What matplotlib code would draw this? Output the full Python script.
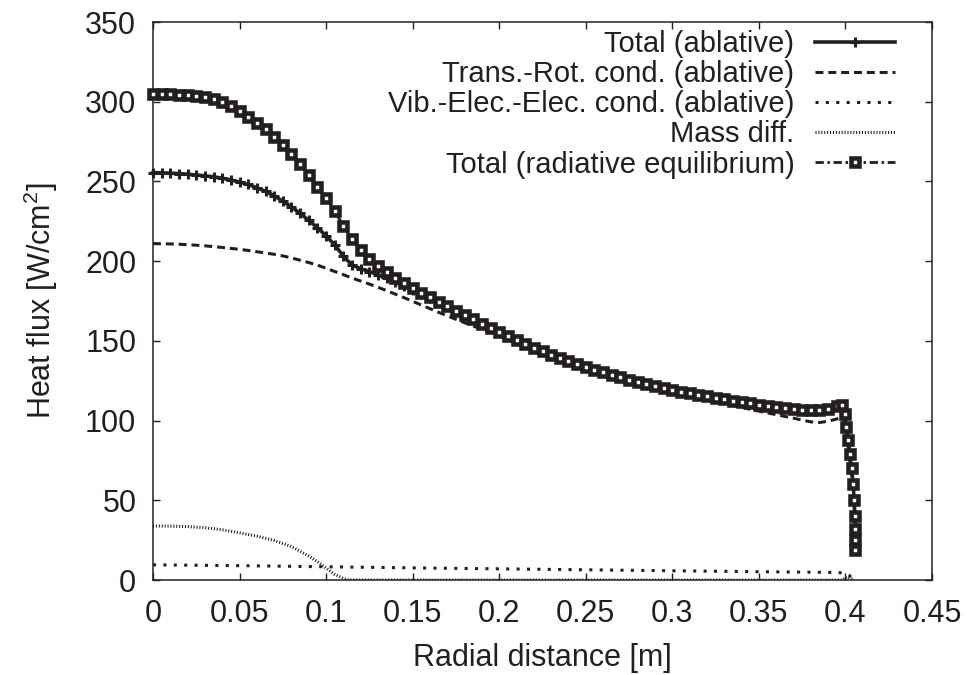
import matplotlib
matplotlib.use('Agg')
import matplotlib.pyplot as plt

# fonts (gnuplot / helvetica look)
plt.rcParams['font.family'] = ['Liberation Sans', 'DejaVu Sans']
plt.rcParams['mathtext.fontset'] = 'custom'
plt.rcParams['mathtext.rm'] = 'Liberation Sans'

# radial distance [m]
x_head = [0.0, 0.005, 0.01, 0.015, 0.02, 0.025, 0.03, 0.035, 0.04, 0.045,
          0.05, 0.055, 0.06, 0.065, 0.07, 0.075, 0.08, 0.085, 0.09, 0.095,
          0.1, 0.105, 0.11, 0.115, 0.12, 0.125, 0.13, 0.135, 0.14, 0.145,
          0.15, 0.155, 0.16, 0.165, 0.17, 0.175, 0.18, 0.185, 0.19, 0.195, 0.2]
x_tail = [0.205, 0.21, 0.215, 0.22, 0.225, 0.23, 0.235, 0.24, 0.245, 0.25,
          0.255, 0.26, 0.265, 0.27, 0.275, 0.28, 0.285, 0.29, 0.295, 0.3,
          0.305, 0.31, 0.315, 0.32, 0.325, 0.33, 0.335, 0.34, 0.345, 0.35,
          0.355, 0.36, 0.365, 0.37, 0.375, 0.38, 0.385, 0.39, 0.395,
          0.398, 0.3995, 0.4005, 0.4015, 0.4025, 0.4035, 0.4045, 0.405, 0.4055, 0.4058, 0.4058, 0.4055]
radial = x_head + x_tail

# heat flux [W/cm2]
total_head = [255.5, 255.4, 255.2, 254.9, 254.5, 254.0, 253.5, 252.9, 252.0, 250.9,
              249.6, 248.1, 246.0, 243.8, 241.0, 237.5, 234.0, 230.0, 225.5, 221.0,
              215.8, 210.2, 203.0, 197.5, 195.3, 193.4, 191.4, 189.2, 186.8, 184.3,
              181.8, 179.3, 176.8, 174.2, 171.6, 169.0, 166.3, 163.6, 160.9, 158.1, 155.3]
rad_head = [305.0, 304.9, 304.7, 304.5, 304.2, 303.8, 303.0, 301.6, 299.6, 297.0,
            294.0, 290.6, 286.8, 282.6, 278.0, 273.0, 267.5, 261.2, 254.2, 246.8,
            239.4, 231.4, 222.0, 213.8, 207.0, 201.6, 197.0, 193.0, 189.4, 186.2,
            183.2, 180.3, 177.4, 174.6, 171.8, 169.0, 166.2, 163.4, 160.7, 158.0, 155.4]
# beyond ~0.2 m both totals coincide
band_tail = [152.8, 150.3, 147.9, 145.6, 143.4, 141.3, 139.2, 137.3, 135.4, 133.6,
             131.9, 130.2, 128.6, 127.1, 125.7, 124.3, 123.0, 121.7, 120.5, 119.3,
             118.2, 117.1, 116.1, 115.1, 114.2, 113.3, 112.4, 111.6, 110.8, 110.0,
             109.3, 108.6, 108.0, 107.4, 106.9, 106.5, 106.4, 107.2, 109.2,
             110.0, 104.0, 96.0, 88.0, 79.0, 70.0, 60.0, 50.0, 40.0, 32.0, 25.0, 19.0]
total_abl = total_head + band_tail
total_rad = rad_head + band_tail

trans_rot = [211.0, 210.9, 210.8, 210.6, 210.3, 210.0, 209.6, 209.1, 208.6, 208.0,
             207.4, 206.7, 205.9, 205.1, 204.3, 203.3, 202.0, 200.6, 199.1, 197.5,
             195.5, 193.5, 191.5, 189.4, 187.5, 185.6, 183.6, 181.5, 179.3, 177.1,
             174.8, 172.5, 170.2, 167.9, 165.7, 163.5, 161.4, 159.3, 157.2, 155.1, 153.0,
             150.6, 148.1, 145.7, 143.4, 141.2, 139.1, 137.0, 135.1, 133.2, 131.4,
             129.7, 128.0, 126.4, 124.9, 123.5, 122.1, 120.8, 119.5, 118.3, 117.1,
             116.0, 114.9, 113.9, 112.8, 111.7, 110.6, 109.5, 108.3, 107.1, 105.9,
             104.8, 103.7, 102.6, 101.5, 100.3, 99.2, 98.8, 99.6, 101.0,
             102.0, 99.0, 92.0, 84.0, 75.0, 66.0, 56.0, 47.0, 38.0, 30.0, 23.0, 17.0]

vee_x = [0.0, 0.05, 0.1, 0.15, 0.2, 0.25, 0.3, 0.35, 0.39, 0.398, 0.402, 0.404]
vee_cond = [9.5, 9.0, 8.3, 7.6, 7.0, 6.4, 5.8, 5.2, 4.8, 4.5, 3.0, 1.0]

mass_x = [0.0, 0.01, 0.02, 0.03, 0.04, 0.05, 0.06, 0.07, 0.08, 0.085, 0.09,
          0.095, 0.1, 0.105, 0.11, 0.113, 0.2, 0.3, 0.398, 0.401, 0.403, 0.405]
mass_diff = [33.9, 33.8, 33.5, 32.8, 31.5, 29.6, 27.5, 24.8, 21.0, 18.0, 15.0,
             11.5, 7.5, 3.5, 1.0, 0.0, 0.0, 0.0, 0.0, 2.0, 1.0, 0.0]

labels = ['Total (ablative)', 'Trans.-Rot. cond. (ablative)',
          'Vib.-Elec.-Elec. cond. (ablative)', 'Mass diff.',
          'Total (radiative equilibrium)']

ink = '#231f20'
fs = 22

fig = plt.figure(figsize=(9.67, 6.75), dpi=100)
ax = fig.add_axes([153 / 967, 95 / 675, 779 / 967, 558 / 675])

ax.plot(radial, total_abl, color=ink, lw=2.6, marker='+', ms=7.5, mew=2.2,
        clip_on=False, label=labels[0], zorder=3)
ax.plot(radial, trans_rot, color=ink, lw=2.2, dashes=(2.6, 1.6),
        label=labels[1], zorder=2)
ax.plot(vee_x, vee_cond, color=ink, lw=2.2, dashes=(1.0, 2.4),
        label=labels[2], zorder=2)
ax.plot(mass_x, mass_diff, color=ink, lw=2.2, dashes=(0.35, 0.6),
        label=labels[3], zorder=2)
ax.plot(radial, total_rad, color=ink, lw=2.0, dashes=(3.0, 1.3, 0.9, 1.3),
        marker='s', ms=5.2, mfc='white', mec=ink, mew=3.3,
        clip_on=False, label=labels[4], zorder=4)

ax.set_xlim(0, 0.45)
ax.set_ylim(0, 350)
ax.set_xticks([0, 0.05, 0.1, 0.15, 0.2, 0.25, 0.3, 0.35, 0.4, 0.45])
ax.set_xticklabels(['0', '0.05', '0.1', '0.15', '0.2', '0.25', '0.3', '0.35', '0.4', '0.45'])
ax.set_yticks([0, 50, 100, 150, 200, 250, 300, 350])

ax.tick_params(axis='both', which='major', direction='in', length=5, width=1,
               top=True, right=True, labelsize=fs, colors=ink)
ax.tick_params(axis='x', pad=14)
ax.tick_params(axis='y', pad=12)
for s in ax.spines.values():
    s.set_linewidth(1.1)
    s.set_color(ink)

ax.set_xlabel('Radial distance [m]', fontsize=fs, color=ink, labelpad=10)
ax.set_ylabel('Heat flux [W/cm$^2$]', fontsize=fs, color=ink, labelpad=18)

leg = ax.legend(loc='upper right', bbox_to_anchor=(0.9525, 0.985), frameon=False,
                fontsize=21, markerfirst=False, numpoints=1, handlelength=2.75,
                handletextpad=0.7, labelspacing=0.07, borderpad=0, borderaxespad=0)
for t in leg.get_texts():
    t.set_color(ink)

fig.savefig('out.png', dpi=100)
